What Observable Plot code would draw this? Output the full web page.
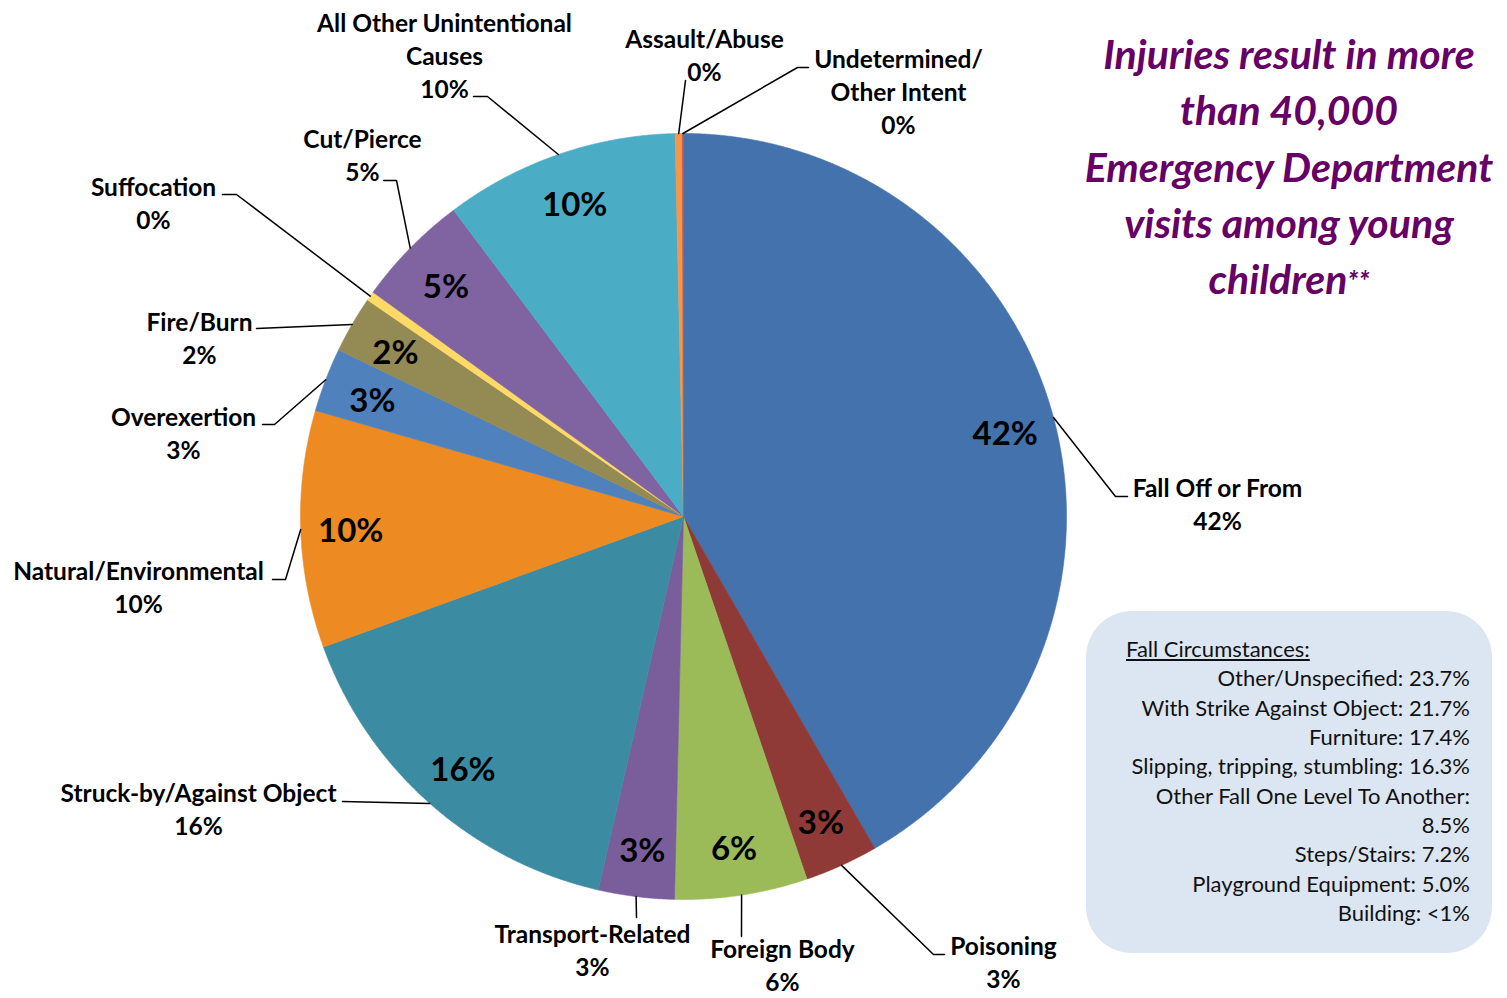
<!DOCTYPE html>
<html>
<head>
<meta charset="utf-8">
<script src="https://cdn.jsdelivr.net/npm/d3@7"></script>
<script src="https://cdn.jsdelivr.net/npm/@observablehq/plot@0.6"></script>
<style>
  html, body { margin: 0; padding: 0; background: #fff; }
  #wrap { position: relative; width: 1507px; height: 998px; overflow: hidden; font-family: Lato, "Open Sans", sans-serif; }
  #chart { position: absolute; left: 0; top: 0; }
  #title { position: absolute; left: 1070px; top: 26px; width: 438px; text-align: center; color: #660066;
           font-weight: 700; font-style: italic; font-size: 41px; line-height: 56.3px; }
  #title .ast { font-size: 28px; vertical-align: 3px; }
  #box { position: absolute; left: 1086px; top: 611px; width: 406px; height: 342px; background: #DCE6F2;
         border-radius: 46px; }
  #box .lines { position: absolute; left: 40px; right: 22px; top: 23px; font-size: 22px; line-height: 29.35px; color: #111; text-align: right; }
  #box .head { text-align: left; text-decoration: underline; }
</style>
</head>
<body>
<div id="wrap">
  <div id="chart"></div>
  <div id="title"></div>
  <div id="box"><div class="lines"></div></div>
</div>
<script>
// ---- data ----
const categories = [
  "Fall Off or From", "Poisoning", "Foreign Body", "Transport-Related", "Struck-by/Against Object",
  "Natural/Environmental", "Overexertion", "Fire/Burn", "Suffocation", "Cut/Pierce",
  "All Other Unintentional Causes", "Assault/Abuse", "Undetermined/Other Intent"
];
const values = [41.7, 3.1, 5.6, 3.2, 15.9, 10.0, 2.7, 2.4, 0.4, 4.8, 9.9, 0.3, 0.05];
const labelLines = [
  ["Fall Off or From"], ["Poisoning"], ["Foreign Body"], ["Transport-Related"], ["Struck-by/Against Object"],
  ["Natural/Environmental"], ["Overexertion"], ["Fire/Burn"], ["Suffocation"], ["Cut/Pierce"],
  ["All Other Unintentional", "Causes"], ["Assault/Abuse"], ["Undetermined/", "Other Intent"]
];
const titleLines = ["Injuries result in more", "than 40,000", "Emergency Department", "visits among young", "children"];
const fallHeading = "Fall Circumstances:";
const fallItems = [
  "Other/Unspecified: 23.7%", "With Strike Against Object: 21.7%", "Furniture: 17.4%",
  "Slipping, tripping, stumbling: 16.3%", "Other Fall One Level To Another:", "8.5%",
  "Steps/Stairs: 7.2%", "Playground Equipment: 5.0%", "Building: <1%"
];

// ---- styles / layout ----
const colors = ["#4472AD", "#8F3A37", "#9BBB59", "#7A5E9C", "#3B8CA3", "#ED8B22", "#4F81BD",
                "#948A54", "#FFD966", "#8064A2", "#4BACC6", "#F79646", "#C0504D"];
const W = 1507, H = 998, CX = 683, CY = 516, R = 383, RIN = 333, INNER_DY = 4;
const LH = 33, FS = 24.5; // outer label line height / font size
// outer label layout: text center x, first-line center y, leader elbow points (after pie edge)
const labelLayout = [
  {x: 1217, y: 486, path: [[1115, 496], [1127, 496]]},
  {x: 1003, y: 944, path: [[933, 954], [944, 954]]},
  {x: 782,  y: 947, path: [[741, 936]]},
  {x: 592,  y: 932, path: [[636, 917]]},
  {x: 198,  y: 791, path: [[342, 801]]},
  {x: 138,  y: 569, path: [[285, 579], [272, 579]]},
  {x: 183,  y: 415, path: [[274, 424], [262, 424]]},
  {x: 199,  y: 320, path: [[256, 328]]},
  {x: 153,  y: 185, path: [[236, 194], [222, 194]]},
  {x: 362,  y: 137, path: [[396, 180], [383, 180]]},
  {x: 444,  y: 21,  path: [[487, 96], [473, 96]]},
  {x: 704,  y: 37,  path: [[685, 80]]},
  {x: 898,  y: 57,  path: [[797, 67], [808, 67]]}
];

// ---- geometry from values ----
const total = d3.sum(values);
const arcs = d3.pie().sort(null).value(d => d)(values);
const pct = v => Math.round(v / total * 100) + "%";
const pt = (a, r) => [CX + r * Math.sin(a), CY - r * Math.cos(a)];

const slicePts = [];
arcs.forEach((a, i) => {
  slicePts.push({i, p: [CX, CY]});
  const n = Math.max(2, Math.ceil((a.endAngle - a.startAngle) / (Math.PI / 720)));
  for (let k = 0; k <= n; k++) {
    const ang = a.startAngle + (a.endAngle - a.startAngle) * k / n;
    slicePts.push({i, p: pt(ang, R)});
  }
  slicePts.push({i, p: [CX, CY]});
});

const inner = arcs.map((a, i) => {
  const mid = (a.startAngle + a.endAngle) / 2;
  const [x, y] = pt(mid, RIN);
  return {x, y: y + INNER_DY, t: pct(values[i]), show: Math.round(values[i] / total * 100) > 0};
}).filter(d => d.show);

const leaderPts = [];
arcs.forEach((a, i) => {
  const mid = (a.startAngle + a.endAngle) / 2;
  leaderPts.push({i, p: pt(mid, R)});
  labelLayout[i].path.forEach(p => leaderPts.push({i, p}));
});

const outer = categories.map((c, i) => {
  const lines = [...labelLines[i], pct(values[i])];
  return {x: labelLayout[i].x, y: labelLayout[i].y + (lines.length - 1) * LH / 2, t: lines.join("\n")};
});

const chart = Plot.plot({
  width: W, height: H, margin: 0,
  x: {domain: [0, W], range: [0, W], axis: null},
  y: {domain: [0, H], range: [0, H], axis: null},
  color: {type: "identity"},
  style: {fontFamily: "Lato, 'Open Sans', sans-serif", background: "transparent"},
  marks: [
    Plot.line(slicePts, {x: d => d.p[0], y: d => d.p[1], z: d => d.i,
      fill: d => colors[d.i], stroke: d => colors[d.i], strokeWidth: 0.6}),
    Plot.line(leaderPts, {x: d => d.p[0], y: d => d.p[1], z: d => d.i, stroke: "#000", strokeWidth: 1.5}),
    Plot.text(inner, {x: "x", y: "y", text: "t", fontSize: 33, fontWeight: 700, fill: "#000"}),
    Plot.text(outer, {x: "x", y: "y", text: "t", fontSize: FS, fontWeight: 700, fill: "#000",
      lineHeight: LH / FS, lineAnchor: "middle"})
  ]
});
document.getElementById("chart").appendChild(chart);

document.getElementById("title").innerHTML =
  titleLines.map((l, i) => i === titleLines.length - 1 ? l + '<span class="ast">**</span>' : l).join("<br>");
document.querySelector("#box .lines").innerHTML =
  '<div class="head">' + fallHeading + '</div>' + fallItems.map(t => '<div>' + t + '</div>').join("");
</script>
</body>
</html>
